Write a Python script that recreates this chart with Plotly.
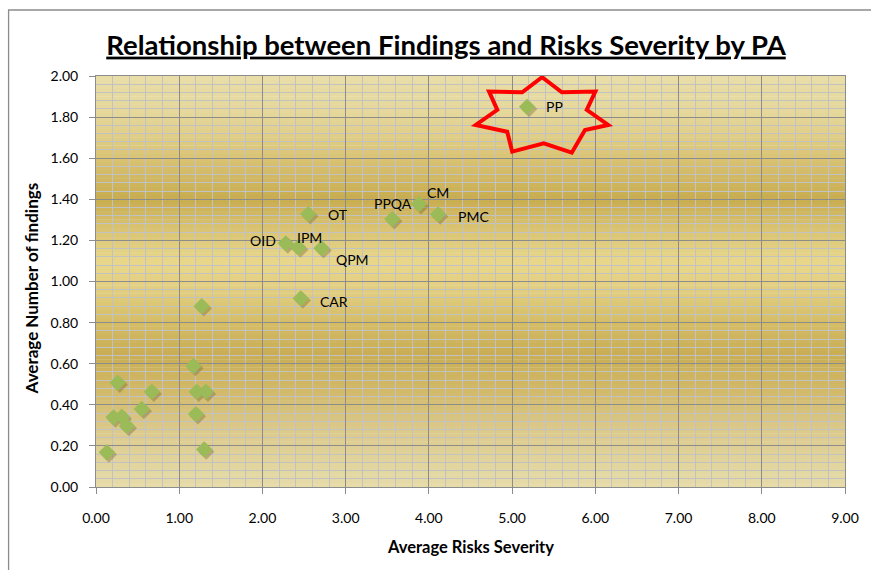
import plotly.graph_objects as go

# ---------------- data ----------------
pa_labels = ["PP", "CM", "PMC", "PPQA", "OT", "OID", "IPM", "QPM", "CAR"]
pa_severity = [5.18, 3.88, 4.11, 3.56, 2.55, 2.28, 2.43, 2.71, 2.46]
pa_findings = [1.85, 1.377, 1.327, 1.304, 1.328, 1.186, 1.166, 1.162, 0.918]

other_severity = [1.27, 1.17, 0.26, 0.67, 1.21, 1.32, 0.55, 0.21, 0.31, 0.37, 1.20, 0.13, 1.30]
other_findings = [0.88, 0.589, 0.508, 0.464, 0.464, 0.464, 0.38, 0.339, 0.342, 0.297, 0.355, 0.169, 0.183]

x_ticks = [0, 1, 2, 3, 4, 5, 6, 7, 8, 9]
y_ticks = [0.0, 0.2, 0.4, 0.6, 0.8, 1.0, 1.2, 1.4, 1.6, 1.8, 2.0]

# ---------------- styles ----------------
FONT = "Lato"
GREEN = "#9BBB59"
L_M, R_M, T_M, B_M = 96, 21, 76, 83
PW = 871 - L_M - R_M
PH = 570 - T_M - B_M
label_offsets = {  # (xanchor, xshift px, yshift px)
    "PP": ("left", 17, 0),
    "CM": ("left", 6, 12),
    "PMC": ("left", 18, -2),
    "PPQA": ("center", 1, 16),
    "OT": ("left", 18, 0),
    "OID": ("right", -8, 3),
    "IPM": ("left", -3, 10),
    "QPM": ("left", 12, -11),
    "CAR": ("left", 17, -3),
}

# vertical background gradient stops (value on y axis, colour)
grad_stops = [
    (2.00, (0xE9, 0xDE, 0xA8)),
    (1.80, (0xE5, 0xD6, 0x98)),
    (1.60, (0xD9, 0xC3, 0x74)),
    (1.40, (0xC8, 0xAC, 0x50)),
    (1.25, (0xDA, 0xC4, 0x74)),
    (1.10, (0xE8, 0xD7, 0x8C)),
    (0.95, (0xE1, 0xCD, 0x7E)),
    (0.80, (0xD5, 0xBD, 0x66)),
    (0.65, (0xC9, 0xAE, 0x55)),
    (0.50, (0xD0, 0xB7, 0x64)),
    (0.30, (0xDB, 0xC8, 0x88)),
    (0.00, (0xE6, 0xDC, 0xAA)),
]


def grad_color(v):
    for (v1, c1), (v2, c2) in zip(grad_stops[:-1], grad_stops[1:]):
        if v2 <= v <= v1:
            t = (v1 - v) / (v1 - v2)
            c = [round(a + (b - a) * t) for a, b in zip(c1, c2)]
            return "rgb(%d,%d,%d)" % tuple(c)
    return "rgb(%d,%d,%d)" % grad_stops[-1][1]


shapes = []
N = 100
for i in range(N):
    y0 = 2.0 * i / N
    y1 = 2.0 * (i + 1) / N
    shapes.append(dict(type="rect", xref="x", yref="y", x0=0, x1=9, y0=y0, y1=y1 + 0.002,
                       fillcolor=grad_color((y0 + y1) / 2), line=dict(width=0), layer="below"))

# star highlight around PP (in data units)
star = [(5.36, 1.994), (5.598, 1.921), (6.00, 1.924), (5.897, 1.835), (6.155, 1.762),
        (5.876, 1.737), (5.717, 1.627), (5.380, 1.672), (5.001, 1.632), (4.941, 1.729),
        (4.563, 1.762), (4.822, 1.835), (4.723, 1.924), (5.121, 1.921)]
path = "M " + " L ".join("%f,%f" % p for p in star) + " Z"
shapes.append(dict(type="path", xref="x", yref="y", path=path,
                   line=dict(color="#FF0000", width=4), fillcolor="rgba(0,0,0,0)", layer="above"))

# outer chart border
shapes.append(dict(type="rect", xref="paper", yref="paper", x0=(8 - L_M) / PW, x1=1.2,
                   y0=-0.4, y1=(570 - B_M - 10) / PH, line=dict(color="#8C8C8C", width=1.3),
                   fillcolor="rgba(0,0,0,0)", layer="above"))

all_x = pa_severity + other_severity
all_y = pa_findings + other_findings

fig = go.Figure()
# soft shadow
fig.add_trace(go.Scatter(
    x=[v + 0.025 for v in all_x], y=[v - 0.011 for v in all_y], mode="markers",
    marker=dict(symbol="diamond", size=12.5, color="rgba(110,95,40,0.35)", line=dict(width=0)),
    hoverinfo="skip", showlegend=False))
fig.add_trace(go.Scatter(
    x=all_x, y=all_y, mode="markers",
    marker=dict(symbol="diamond", size=12.5, color=GREEN, line=dict(width=0)),
    showlegend=False))

annotations = []
for lab, xv, yv in zip(pa_labels, pa_severity, pa_findings):
    anc, dx, dy = label_offsets[lab]
    annotations.append(dict(x=xv, y=yv, xref="x", yref="y", text=lab, showarrow=False,
                            xanchor=anc, yanchor="middle", xshift=dx, yshift=dy,
                            font=dict(family=FONT, size=14, color="#000000")))

annotations.append(dict(x=(473 - L_M) / PW, y=(570 - B_M - 547) / PH, xref="paper", yref="paper",
                        text="<b>Average Risks Severity</b>", showarrow=False,
                        xanchor="center", yanchor="middle",
                        font=dict(family=FONT, size=16.5, color="#000000")))
annotations.append(dict(x=(31 - L_M) / PW, y=(570 - B_M - 288) / PH, xref="paper", yref="paper",
                        text="<b>Average Number of findings</b>", showarrow=False, textangle=-90,
                        xanchor="center", yanchor="middle",
                        font=dict(family=FONT, size=17, color="#000000")))

fig.update_layout(
    width=871, height=570,
    margin=dict(l=L_M, r=R_M, t=T_M, b=B_M),
    paper_bgcolor="white", plot_bgcolor="white",
    title=dict(text="<b><u>Relationship between Findings and Risks Severity by PA</u></b>",
               x=446 / 871, xanchor="center", y=1 - 45 / 570, yanchor="middle",
               font=dict(family=FONT, size=27.5, color="#000000")),
    shapes=shapes, annotations=annotations,
    xaxis=dict(range=[0, 9], tickvals=x_ticks, tickformat=".2f",
               showgrid=True, gridcolor="#8C8C8C", gridwidth=1,
               minor=dict(dtick=0.2, showgrid=True, gridcolor="#C2C2C2", gridwidth=1.2),
               showline=True, linecolor="#8C8C8C", linewidth=1, mirror=True,
               ticks="outside", ticklen=6, tickcolor="#8C8C8C",
               ticklabelstandoff=12,
               tickfont=dict(family=FONT, size=14, color="#000000"), zeroline=False),
    yaxis=dict(range=[0, 2], tickvals=y_ticks, tickformat=".2f",
               showgrid=True, gridcolor="#8C8C8C", gridwidth=1,
               minor=dict(dtick=0.04, showgrid=True, gridcolor="#C2C2C2", gridwidth=1.2),
               showline=True, linecolor="#8C8C8C", linewidth=1, mirror=True,
               ticks="outside", ticklen=6, tickcolor="#8C8C8C",
               ticklabelstandoff=8,
               tickfont=dict(family=FONT, size=14, color="#000000"), zeroline=False),
)

fig.write_html("out.html", config={"displayModeBar": False},
               post_script="document.body.style.margin='0';document.body.style.overflow='hidden';")
